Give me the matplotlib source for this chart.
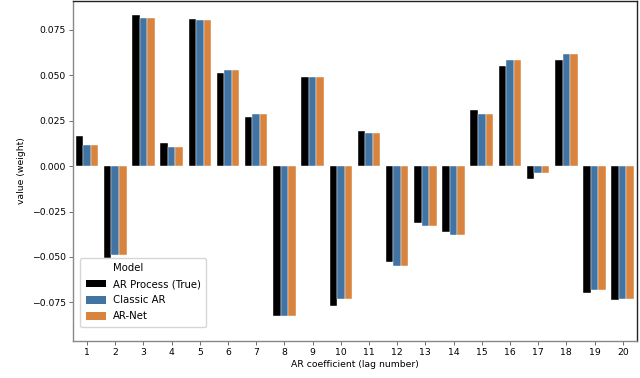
import numpy as np
import matplotlib
matplotlib.use('Agg')
import matplotlib.pyplot as plt
from matplotlib.patches import Patch

# AR coefficients per lag
lags = [str(i) for i in range(1, 21)]
ar_true = [0.0167, -0.0504, 0.0828, 0.0128, 0.0811, 0.0513, 0.0268, -0.0824, 0.0487, -0.0769,
           0.0191, -0.0529, -0.0315, -0.0364, 0.0308, 0.0548, -0.0073, 0.0581, -0.0700, -0.0738]
classic_ar = [0.0117, -0.0487, 0.0813, 0.0103, 0.0802, 0.0526, 0.0286, -0.0823, 0.0487, -0.0733,
              0.0183, -0.0550, -0.0330, -0.0377, 0.0288, 0.0584, -0.0040, 0.0617, -0.0680, -0.0729]
ar_net = [0.0117, -0.0487, 0.0813, 0.0103, 0.0802, 0.0526, 0.0286, -0.0823, 0.0487, -0.0733,
          0.0183, -0.0550, -0.0330, -0.0377, 0.0288, 0.0584, -0.0040, 0.0617, -0.0680, -0.0729]

models = ['AR Process (True)', 'Classic AR', 'AR-Net']
colors = ['#000000', '#4174a3', '#d8843f']

fig = plt.figure(figsize=(6.4, 3.78), dpi=100)
ax = fig.add_axes([0.114, 0.098, 0.881, 0.899])

x = np.arange(len(lags))
w = 0.8 / 3
for i, (vals, c) in enumerate(zip([ar_true, classic_ar, ar_net], colors)):
    ax.bar(x + (i - 1) * w, vals, width=w, color=c, edgecolor='white', linewidth=0.3)

ax.set_xlim(-0.5, 19.5)
ax.set_ylim(-0.0962, 0.0907)
ax.set_xticks(x)
ax.set_xticklabels(lags)
ax.set_yticks([-0.075, -0.05, -0.025, 0, 0.025, 0.05, 0.075])
ax.set_yticklabels(['\u22120.075', '\u22120.050', '\u22120.025', '0.000', '0.025', '0.050', '0.075'])
ax.tick_params(labelsize=6.7, length=3, width=0.6, color='#555555', pad=2)
ax.set_xlabel('AR coefficient (lag number)', fontsize=6.7, labelpad=2)
ax.set_ylabel('value (weight)', fontsize=6.7, labelpad=4)

for s in ['left', 'bottom']:
    ax.spines[s].set_color('#888888')
    ax.spines[s].set_linewidth(1.0)
for s in ['top', 'right']:
    ax.spines[s].set_color('#222222')
    ax.spines[s].set_linewidth(1.0)

handles = [Patch(facecolor='none', edgecolor='none')] + [Patch(facecolor=c) for c in colors]
labels = ['Model'] + models
ax.legend(handles, labels, loc='lower left', bbox_to_anchor=(0.0124, 0.041),
          borderaxespad=0, fontsize=7.3, frameon=True,
          handlelength=2.0, handleheight=0.75, borderpad=0.55,
          labelspacing=0.6, handletextpad=0.7, edgecolor='#cccccc')

fig.savefig('out.png', dpi=100)
